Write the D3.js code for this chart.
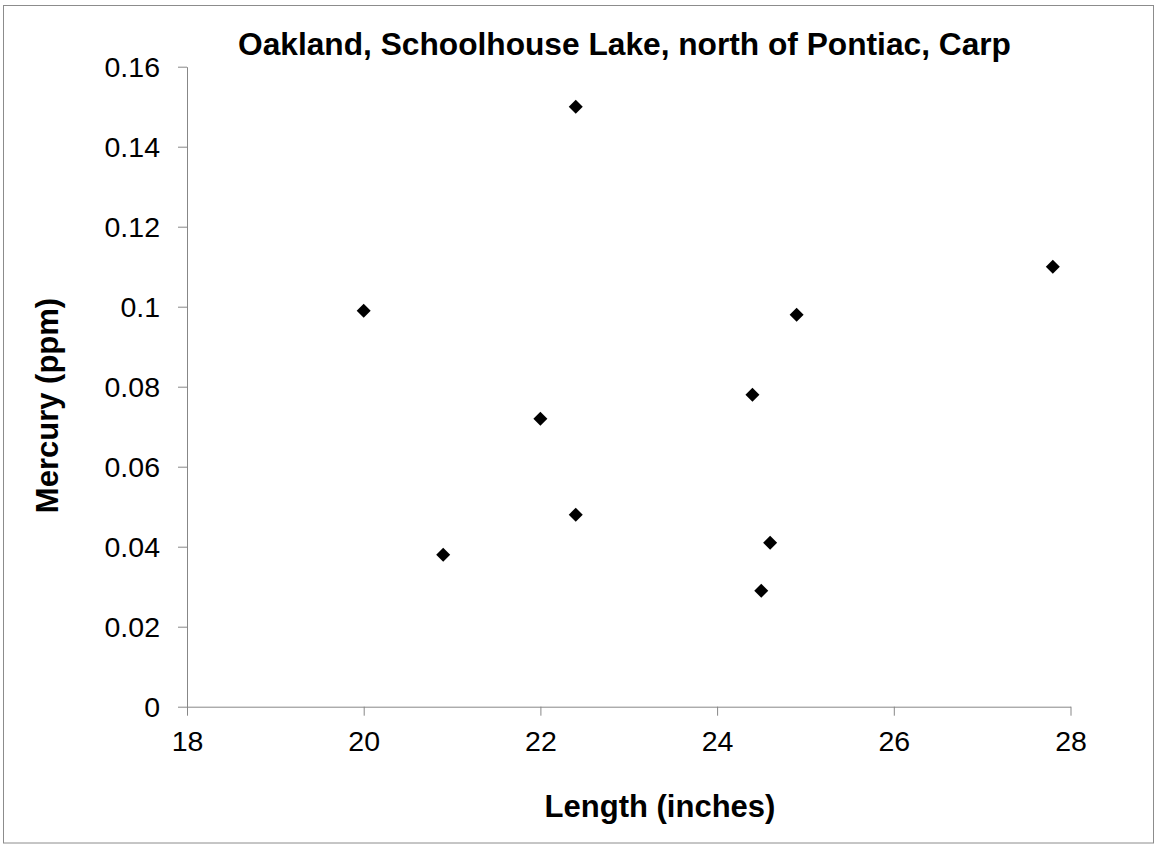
<!DOCTYPE html>
<html>
<head>
<meta charset="utf-8">
<script src="https://cdn.jsdelivr.net/npm/d3@7"></script>
<style>
  html, body { margin: 0; padding: 0; background: #fff; }
  svg { display: block; font-family: "Liberation Sans", Arial, sans-serif; }
</style>
</head>
<body>
<svg id="chart" width="1156" height="844"></svg>
<script>
const chartTitle = "Oakland, Schoolhouse Lake, north of Pontiac, Carp";
const xTitle = "Length (inches)";
const yTitle = "Mercury (ppm)";
const lengthInches = [20.0, 20.9, 22.0, 22.4, 22.4, 24.4, 24.5, 24.6, 24.9, 27.8];
const mercuryPpm  = [0.099, 0.038, 0.072, 0.048, 0.150, 0.078, 0.029, 0.041, 0.098, 0.110];
const xTicks = [18, 20, 22, 24, 26, 28];
const yTicks = [0, 0.02, 0.04, 0.06, 0.08, 0.1, 0.12, 0.14, 0.16];

const svg = d3.select("#chart");
const axisColor = "#878787";

// outer frame
svg.append("rect")
  .attr("x", 3.5).attr("y", 5.5).attr("width", 1150).attr("height", 837.5)
  .attr("fill", "#fff").attr("stroke", "#8c8c8c").attr("stroke-width", 1);

const x = d3.scaleLinear().domain([18, 28]).range([187, 1070.5]);
const y = d3.scaleLinear().domain([0, 0.16]).range([706.7, 66.7]);

// Y axis
const yAxis = svg.append("g")
  .attr("transform", `translate(${x(18)},0)`)
  .call(d3.axisLeft(y).tickValues(yTicks).tickSize(9).tickSizeOuter(0).tickPadding(18)
    .tickFormat(d => d === 0 ? "0" : String(+d.toFixed(2))));
// X axis
const xAxis = svg.append("g")
  .attr("transform", `translate(0,${y(0)})`)
  .call(d3.axisBottom(x).tickValues(xTicks).tickSize(9).tickSizeOuter(0).tickPadding(14)
    .tickFormat(d3.format("d")));

[yAxis, xAxis].forEach(g => {
  g.select(".domain").attr("stroke", axisColor).attr("stroke-width", 1);
  g.selectAll(".tick line").attr("stroke", axisColor).attr("stroke-width", 1);
  g.selectAll(".tick text").attr("fill", "#000").attr("font-size", 28.5)
    .attr("font-family", "'Liberation Sans', Arial, sans-serif");
});
yAxis.selectAll(".tick text").attr("dy", "0.34em");
xAxis.selectAll(".tick text").attr("dy", "0.74em");

// points (diamonds)
const pts = lengthInches.map((v, i) => ({ x: v, y: mercuryPpm[i] }));
const r = 7;
svg.append("g").selectAll("path").data(pts).join("path")
  .attr("d", d => {
    const cx = x(d.x), cy = y(d.y);
    return `M${cx},${cy - r}L${cx + r},${cy}L${cx},${cy + r}L${cx - r},${cy}Z`;
  })
  .attr("fill", "#000");

// titles
svg.append("text")
  .attr("x", 624.5).attr("y", 55)
  .attr("text-anchor", "middle")
  .attr("font-size", 31.7).attr("font-weight", "bold").attr("fill", "#000")
  .text(chartTitle);

svg.append("text")
  .attr("x", 660).attr("y", 817)
  .attr("text-anchor", "middle")
  .attr("font-size", 31).attr("font-weight", "bold").attr("fill", "#000")
  .text(xTitle);

svg.append("text")
  .attr("transform", "translate(58,405.5) rotate(-90)")
  .attr("text-anchor", "middle")
  .attr("font-size", 31).attr("font-weight", "bold").attr("fill", "#000")
  .text(yTitle);
</script>
</body>
</html>
